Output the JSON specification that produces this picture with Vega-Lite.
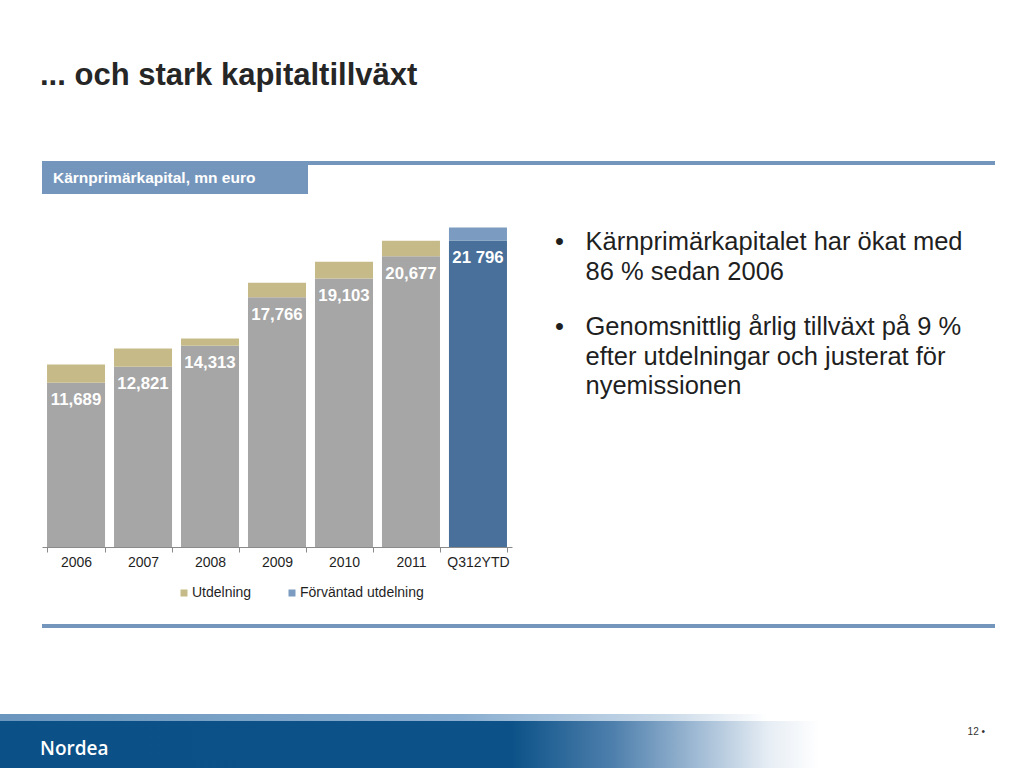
{
  "$schema": "https://vega.github.io/schema/vega-lite/v6.json",
  "background": "white",
  "padding": {"left": 0, "top": 60, "right": 0, "bottom": 0},
  "title": {
    "text": "... och stark kapitaltillväxt",
    "anchor": "start",
    "frame": "group",
    "font": "Liberation Sans",
    "fontSize": 31,
    "fontWeight": "bold",
    "color": "#262626",
    "offset": 69,
    "dx": 40
  },
  "config": {
    "view": {"stroke": null},
    "font": "Liberation Sans"
  },
  "spacing": 27,
  "resolve": {"scale": {"color": "independent"}, "legend": {"color": "independent"}},
  "vconcat": [
    {
      "spacing": 0,
      "hconcat": [
        {
          "width": 42, "height": 33,
          "data": {"values": [{"s": ""}]},
          "mark": {"type": "rect", "opacity": 0},
          "encoding": {}
        },
        {
          "width": 266, "height": 33,
          "data": {"values": [{"rubrik": "Kärnprimärkapital, mn euro"}]},
          "layer": [
            {"mark": {"type": "rect", "color": "#7596bc"}, "encoding": {}},
            {
              "mark": {"type": "text", "align": "left", "baseline": "middle", "dx": -122, "dy": 0.5, "fontSize": 15.5, "fontWeight": "bold", "color": "white", "font": "Liberation Sans"},
              "encoding": {"text": {"field": "rubrik"}}
            }
          ]
        },
        {
          "width": 687, "height": 4,
          "data": {"values": [{"s": ""}]},
          "mark": {"type": "rect", "color": "#7596bc"},
          "encoding": {}
        }
      ]
    },
    {
      "spacing": 24,
      "resolve": {"scale": {"color": "independent"}, "legend": {"color": "independent"}},
      "vconcat": [
        {
          "spacing": 0,
          "resolve": {"scale": {"color": "independent"}, "legend": {"color": "independent"}},
          "hconcat": [
            {
              "width": 42, "height": 326,
              "data": {"values": [{"s": ""}]},
              "mark": {"type": "rect", "opacity": 0},
              "encoding": {}
            },
            {
              "width": 470,
              "height": 326,
              "data": {
                "values": [
                  {"year": "2006", "part": "bas", "series": "Kärnprimärkapital", "value": 11689, "label": "11,689"},
                  {"year": "2006", "part": "utdelning", "series": "Utdelning", "value": 1300},
                  {"year": "2007", "part": "bas", "series": "Kärnprimärkapital", "value": 12821, "label": "12,821"},
                  {"year": "2007", "part": "utdelning", "series": "Utdelning", "value": 1300},
                  {"year": "2008", "part": "bas", "series": "Kärnprimärkapital", "value": 14313, "label": "14,313"},
                  {"year": "2008", "part": "utdelning", "series": "Utdelning", "value": 520},
                  {"year": "2009", "part": "bas", "series": "Kärnprimärkapital", "value": 17766, "label": "17,766"},
                  {"year": "2009", "part": "utdelning", "series": "Utdelning", "value": 1040},
                  {"year": "2010", "part": "bas", "series": "Kärnprimärkapital", "value": 19103, "label": "19,103"},
                  {"year": "2010", "part": "utdelning", "series": "Utdelning", "value": 1180},
                  {"year": "2011", "part": "bas", "series": "Kärnprimärkapital", "value": 20677, "label": "20,677"},
                  {"year": "2011", "part": "utdelning", "series": "Utdelning", "value": 1110},
                  {"year": "Q312YTD", "part": "bas", "series": "Kärnprimärkapital Q312YTD", "value": 21796, "label": "21 796"},
                  {"year": "Q312YTD", "part": "utdelning", "series": "Förväntad utdelning", "value": 925}
                ]
              },
              "encoding": {
                "x": {
                  "field": "year",
                  "type": "ordinal",
                  "sort": null,
                  "scale": {"paddingInner": 0.134, "paddingOuter": 0.075},
                  "axis": {
                    "title": null,
                    "labelAngle": 0,
                    "domainColor": "#8a8a8a",
                    "tickColor": "#8a8a8a",
                    "tickSize": 5,
                    "tickBand": "extent",
                    "labelFont": "Liberation Sans",
                    "labelFontSize": 14,
                    "labelColor": "#1f1f1f",
                    "labelPadding": 3,
                    "grid": false
                  }
                }
              },
              "layer": [
                {
                  "mark": {"type": "bar"},
                  "encoding": {
                    "y": {
                      "field": "value",
                      "type": "quantitative",
                      "stack": "zero",
                      "scale": {"domain": [0, 23190], "nice": false},
                      "axis": null
                    },
                    "order": {"field": "part", "type": "ordinal"},
                    "color": {
                      "field": "series",
                      "type": "nominal",
                      "scale": {
                        "domain": ["Kärnprimärkapital", "Kärnprimärkapital Q312YTD", "Utdelning", "Förväntad utdelning"],
                        "range": ["#a6a6a6", "#48709a", "#c6bb88", "#7b9bc0"]
                      },
                      "legend": {
                        "values": ["Utdelning", "Förväntad utdelning"],
                        "title": null,
                        "orient": "none",
                        "legendX": 135,
                        "legendY": 365,
                        "direction": "horizontal",
                        "symbolType": "square",
                        "symbolSize": 49,
                        "symbolStrokeWidth": 0,
                        "labelFont": "Liberation Sans",
                        "labelFontSize": 14,
                        "labelColor": "#1f1f1f",
                        "columnPadding": 33,
                        "labelOffset": 1
                      }
                    }
                  }
                },
                {
                  "transform": [{"filter": "datum.part === 'bas'"}],
                  "mark": {"type": "text", "color": "white", "fontWeight": "bold", "fontSize": 16.8, "font": "Liberation Sans", "baseline": "middle", "dy": 17.5},
                  "encoding": {
                    "y": {"field": "value", "type": "quantitative"},
                    "text": {"field": "label", "type": "nominal"}
                  }
                }
              ]
            },
            {
              "width": 43, "height": 326,
              "data": {"values": [{"s": ""}]},
              "mark": {"type": "rect", "opacity": 0},
              "encoding": {}
            },
            {
              "width": 1,
              "height": 85,
              "data": {
                "values": [
                  {"item": 1, "text": "Kärnprimärkapitalet har ökat med\n86 % sedan 2006"},
                  {"item": 2, "text": "Genomsnittlig årlig tillväxt på 9 %\nefter utdelningar och justerat för\nnyemissionen"}
                ]
              },
              "encoding": {
                "y": {"field": "item", "type": "ordinal", "scale": {"type": "point", "padding": 0}, "axis": null}
              },
              "layer": [
                {
                  "mark": {"type": "text", "align": "left", "baseline": "top", "dx": -0.5, "dy": 9, "fontSize": 25.5, "color": "#1f1f1f", "font": "Liberation Sans"},
                  "encoding": {"text": {"value": "•"}}
                },
                {
                  "mark": {"type": "text", "align": "left", "baseline": "top", "dx": 30, "dy": 9, "fontSize": 25.5, "lineHeight": 29.5, "lineBreak": "\n", "color": "#1f1f1f", "font": "Liberation Sans"},
                  "encoding": {"text": {"field": "text", "type": "nominal"}}
                }
              ]
            }
          ]
        },
        {
          "spacing": 86,
          "vconcat": [
            {
              "spacing": 0,
              "hconcat": [
                {
                  "width": 42, "height": 4,
                  "data": {"values": [{"s": ""}]},
                  "mark": {"type": "rect", "opacity": 0},
                  "encoding": {}
                },
                {
                  "width": 953, "height": 4,
                  "data": {"values": [{"s": ""}]},
                  "mark": {"type": "rect", "color": "#7596bc"},
                  "encoding": {}
                }
              ]
            },
            {
              "spacing": 0,
              "vconcat": [
                {
                  "width": 1024, "height": 7,
                  "data": {"values": [{"s": ""}]},
                  "mark": {
                    "type": "rect",
                    "color": {
                      "gradient": "linear", "x1": 0, "y1": 0, "x2": 1, "y2": 0,
                      "stops": [
                        {"offset": 0, "color": "#6a95bd"},
                        {"offset": 0.45, "color": "#8aaed0"},
                        {"offset": 0.65, "color": "#c9d9e8"},
                        {"offset": 0.75, "color": "#ffffff"},
                        {"offset": 1, "color": "#ffffff"}
                      ]
                    }
                  },
                  "encoding": {}
                },
                {
                  "width": 1024, "height": 48,
                  "data": {"values": [{"brand": "Nordea", "page": "12 •"}]},
                  "layer": [
                    {
                      "mark": {
                        "type": "rect",
                        "color": {
                          "gradient": "linear", "x1": 0, "y1": 0, "x2": 1, "y2": 0,
                          "stops": [
                            {"offset": 0, "color": "#0b5087"},
                            {"offset": 0.5, "color": "#0c5288"},
                            {"offset": 0.6, "color": "#4f80ad"},
                            {"offset": 0.68, "color": "#9fbad4"},
                            {"offset": 0.75, "color": "#e6edf4"},
                            {"offset": 0.8, "color": "#ffffff"},
                            {"offset": 1, "color": "#ffffff"}
                          ]
                        }
                      },
                      "encoding": {}
                    },
                    {
                      "mark": {"type": "text", "align": "left", "baseline": "alphabetic", "dx": -472, "dy": 9.5, "fontSize": 19, "fontWeight": 600, "color": "white", "font": "Open Sans"},
                      "encoding": {"text": {"field": "brand"}}
                    },
                    {
                      "mark": {"type": "text", "align": "right", "baseline": "alphabetic", "dx": 473, "dy": -10.5, "fontSize": 10, "color": "#333333", "font": "Liberation Sans"},
                      "encoding": {"text": {"field": "page"}}
                    }
                  ]
                }
              ]
            }
          ]
        }
      ]
    }
  ]
}
